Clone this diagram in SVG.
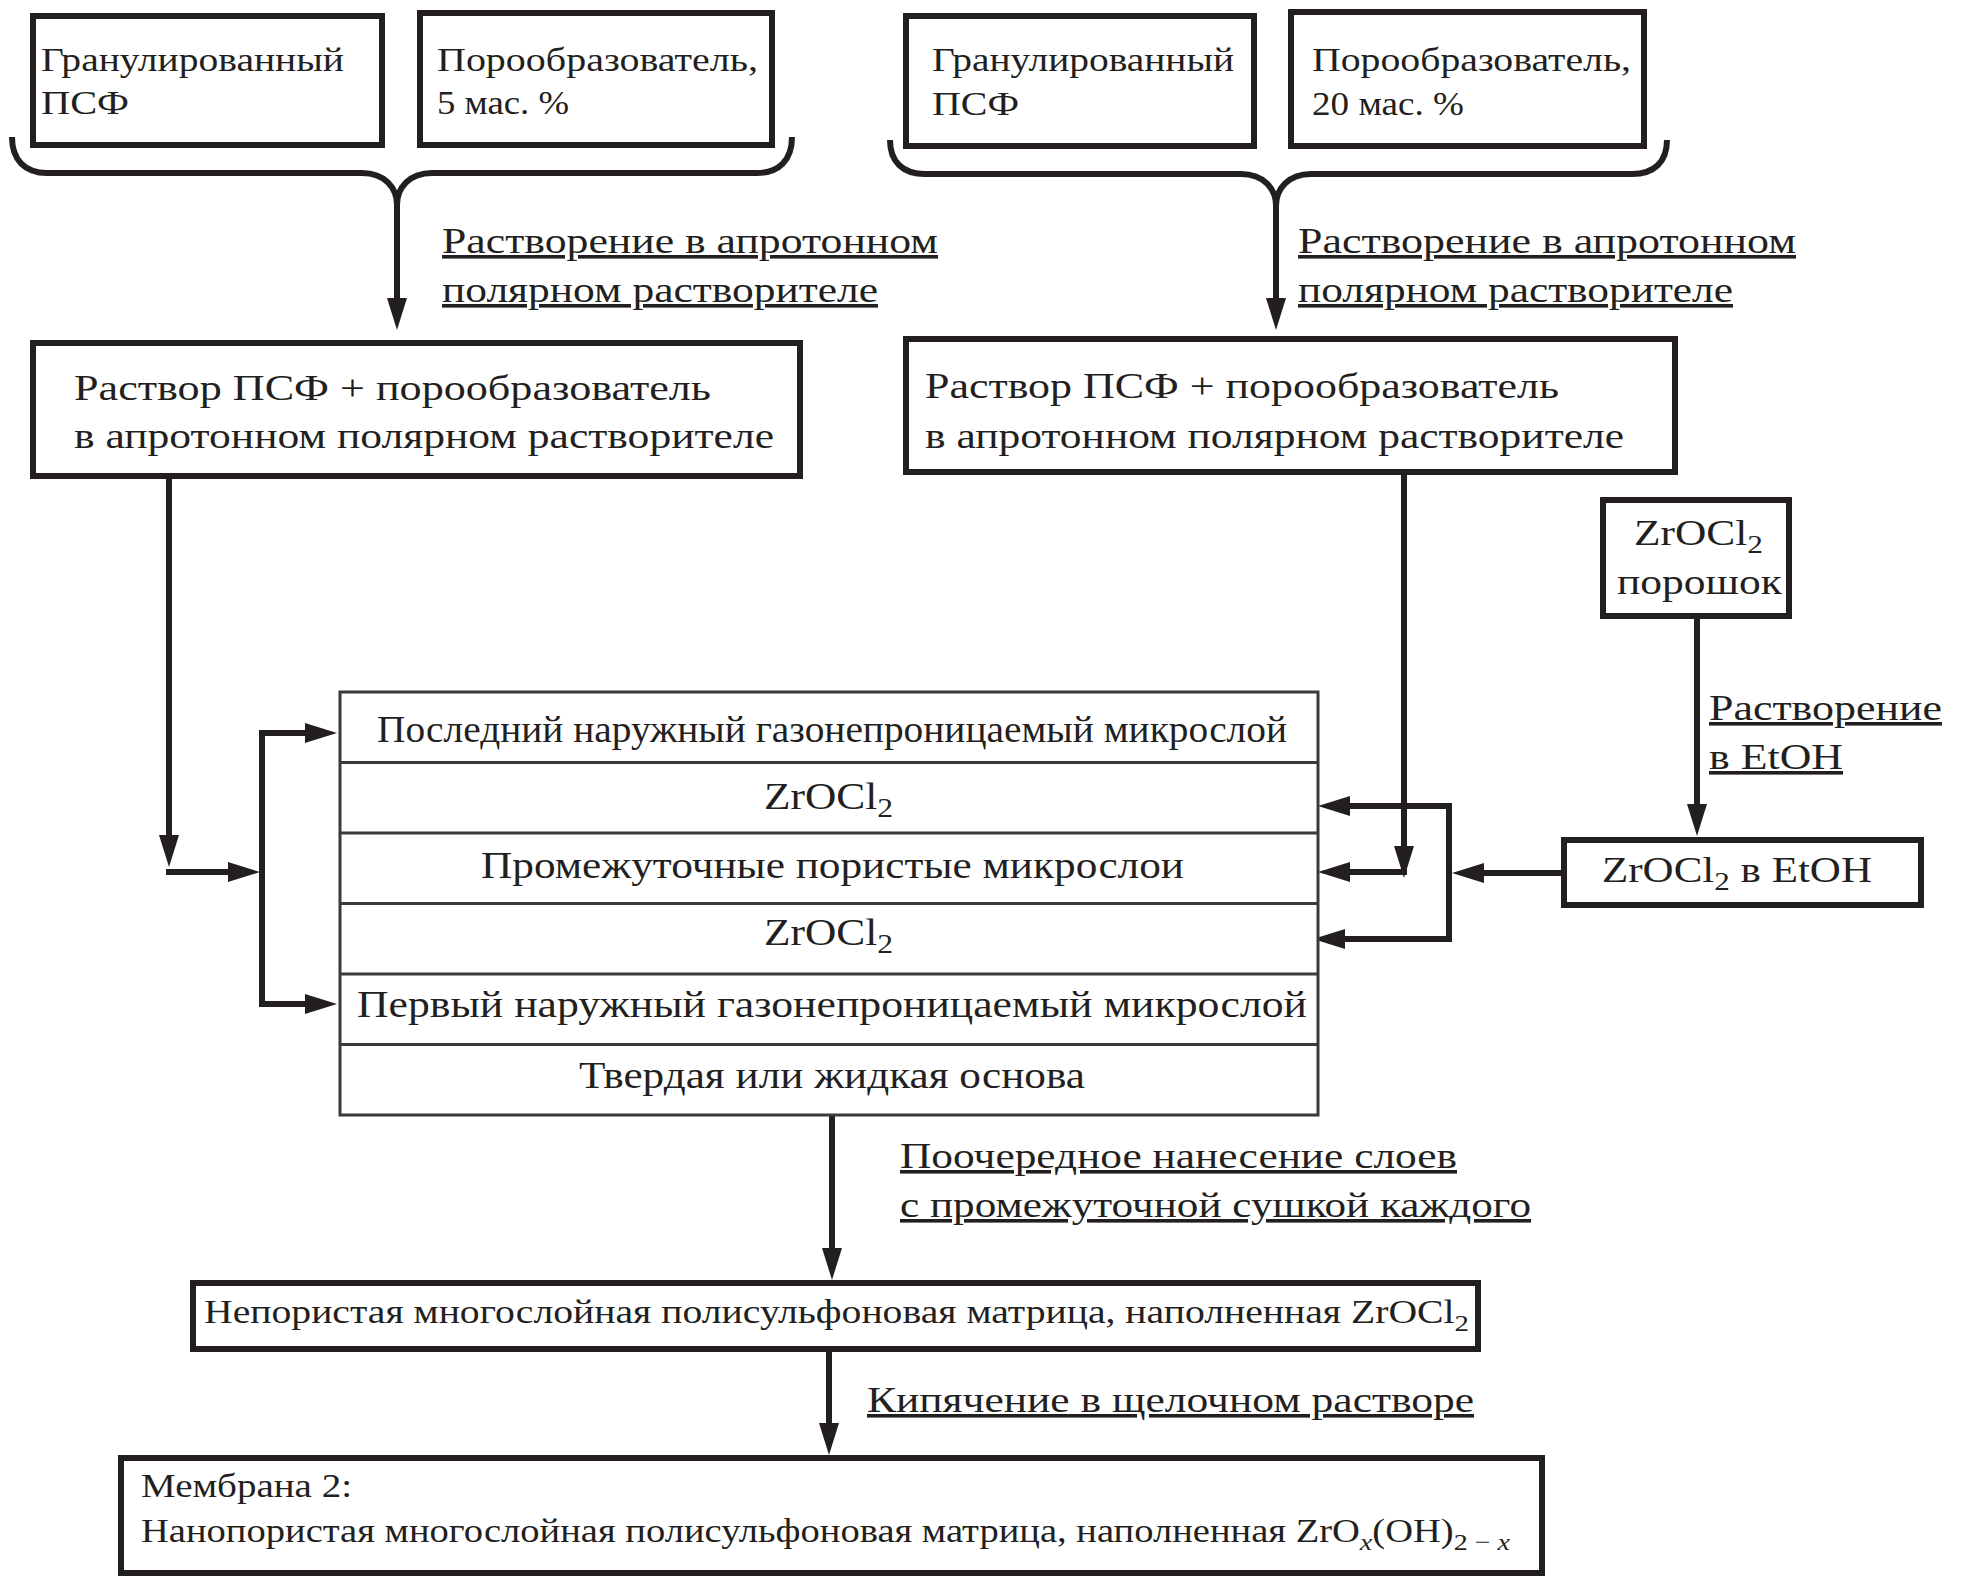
<svg xmlns="http://www.w3.org/2000/svg" width="1972" height="1584" viewBox="0 0 1972 1584">
<style>
  .box { fill: #ffffff; stroke: #231f20; stroke-width: 6; }
  .layer { fill: #ffffff; stroke: #3a3a3a; stroke-width: 3; }
  .ln { fill: none; stroke: #3a3a3a; stroke-width: 3; }
  .con { fill: none; stroke: #231f20; stroke-width: 6; }
  .arr { fill: none; stroke: #231f20; stroke-width: 6; marker-end: url(#ah); }
  text { font-family: "Liberation Serif", "Times New Roman", serif; fill: #231f20; }
  .t34 { font-size: 34px; }
  .t36 { font-size: 36px; }
  .t37 { font-size: 37px; }
  .t33 { font-size: 33px; }
  .u { text-decoration: underline; }
</style>
<defs>
  <marker id="ah" markerUnits="userSpaceOnUse" markerWidth="32" markerHeight="20" refX="12" refY="10" orient="auto">
    <path d="M0,0 L32,10 L0,20 z" fill="#231f20"/>
  </marker>
</defs>

<g id="connectors">
  <path class="con" d="M12,137 C12,160 25,173 47,173 L362,173 C385,173 397,188 397,205 C397,188 409,173 432,173 L757,173 C779,173 792,160 792,137"/>
  <path class="arr" d="M397,203 V310"/>
  <path class="con" d="M890,140 C890,162 903,174 925,174 L1241,174 C1264,174 1276,189 1276,206 C1276,189 1288,174 1311,174 L1632,174 C1654,174 1667,162 1667,140"/>
  <path class="arr" d="M1276,204 V310"/>
  <path class="arr" d="M169,478 V847"/>
  <path class="arr" d="M166,872 H240"/>
  <path class="con" d="M262,733 V1004"/>
  <path class="arr" d="M259,733 H317"/>
  <path class="arr" d="M259,1004 H317"/>
  <path class="arr" d="M1404,473 V858"/>
  <path class="arr" d="M1407,872 H1338"/>
  <path class="con" d="M1449,806 V939"/>
  <path class="arr" d="M1452,806 H1338"/>
  <path class="arr" d="M1452,939 H1333"/>
  <path class="arr" d="M1562,873 H1472"/>
  <path class="arr" d="M1697,619 V816"/>
  <path class="arr" d="M832,1116 V1260"/>
  <path class="arr" d="M829,1352 V1435"/>
</g>

<g id="labels">
  <text class="t36 u" x="442" y="253" textLength="496" lengthAdjust="spacingAndGlyphs">Растворение в апротонном</text>
  <text class="t36 u" x="442" y="302" textLength="436" lengthAdjust="spacingAndGlyphs">полярном растворителе</text>
  <text class="t36 u" x="1298" y="253" textLength="498" lengthAdjust="spacingAndGlyphs">Растворение в апротонном</text>
  <text class="t36 u" x="1298" y="302" textLength="435" lengthAdjust="spacingAndGlyphs">полярном растворителе</text>
  <text class="t36 u" x="1709" y="720" textLength="233" lengthAdjust="spacingAndGlyphs">Растворение</text>
  <text class="t36 u" x="1709" y="769" textLength="134" lengthAdjust="spacingAndGlyphs">в EtOH</text>
  <text class="t36 u" x="900" y="1168" textLength="557" lengthAdjust="spacingAndGlyphs">Поочередное нанесение слоев</text>
  <text class="t36 u" x="900" y="1217" textLength="631" lengthAdjust="spacingAndGlyphs">с промежуточной сушкой каждого</text>
  <text class="t36 u" x="867" y="1412" textLength="607" lengthAdjust="spacingAndGlyphs">Кипячение в щелочном растворе</text>
</g>

<g id="node-psf-1">
  <rect class="box" x="33" y="16" width="349" height="129"/>
  <text class="t34" x="41" y="71" textLength="303" lengthAdjust="spacingAndGlyphs">Гранулированный</text>
  <text class="t34" x="41" y="114" textLength="88" lengthAdjust="spacingAndGlyphs">ПСФ</text>
</g>
<g id="node-poro-5">
  <rect class="box" x="420" y="13" width="352" height="132"/>
  <text class="t34" x="437" y="71" textLength="321" lengthAdjust="spacingAndGlyphs">Порообразователь,</text>
  <text class="t34" x="437" y="114" textLength="132" lengthAdjust="spacingAndGlyphs">5 мас. %</text>
</g>
<g id="node-psf-2">
  <rect class="box" x="906" y="16" width="348" height="130"/>
  <text class="t34" x="932" y="71" textLength="302" lengthAdjust="spacingAndGlyphs">Гранулированный</text>
  <text class="t34" x="932" y="115" textLength="87" lengthAdjust="spacingAndGlyphs">ПСФ</text>
</g>
<g id="node-poro-20">
  <rect class="box" x="1291" y="12" width="353" height="134"/>
  <text class="t34" x="1312" y="71" textLength="319" lengthAdjust="spacingAndGlyphs">Порообразователь,</text>
  <text class="t34" x="1312" y="115" textLength="152" lengthAdjust="spacingAndGlyphs">20 мас. %</text>
</g>
<g id="node-solution-1">
  <rect class="box" x="33" y="343" width="767" height="133"/>
  <text class="t36" x="74" y="400" textLength="637" lengthAdjust="spacingAndGlyphs">Раствор ПСФ + порообразователь</text>
  <text class="t36" x="74" y="448" textLength="700" lengthAdjust="spacingAndGlyphs">в апротонном полярном растворителе</text>
</g>
<g id="node-solution-2">
  <rect class="box" x="906" y="339" width="769" height="133"/>
  <text class="t36" x="925" y="398" textLength="634" lengthAdjust="spacingAndGlyphs">Раствор ПСФ + порообразователь</text>
  <text class="t36" x="925" y="448" textLength="699" lengthAdjust="spacingAndGlyphs">в апротонном полярном растворителе</text>
</g>
<g id="node-zrocl2-powder">
  <rect class="box" x="1603" y="500" width="186" height="116"/>
  <text class="t36" x="1634" y="545" textLength="129" lengthAdjust="spacingAndGlyphs">ZrOCl<tspan dy="8" font-size="26">2</tspan></text>
  <text class="t36" x="1617" y="594" textLength="165" lengthAdjust="spacingAndGlyphs">порошок</text>
</g>
<g id="node-zrocl2-etoh">
  <rect class="box" x="1564" y="840" width="357" height="65"/>
  <text class="t36" x="1602" y="882" textLength="270" lengthAdjust="spacingAndGlyphs">ZrOCl<tspan dy="8" font-size="26">2</tspan><tspan dy="-8"> в EtOH</tspan></text>
</g>
<g id="node-layers">
  <rect class="layer" x="340" y="692" width="978" height="423"/>
  <path class="ln" d="M340,762.5 H1318 M340,833 H1318 M340,903.5 H1318 M340,974 H1318 M340,1044.5 H1318"/>
  <text class="t37" x="377" y="742" textLength="910" lengthAdjust="spacingAndGlyphs">Последний наружный газонепроницаемый микрослой</text>
  <text class="t37" x="764" y="809" textLength="129" lengthAdjust="spacingAndGlyphs">ZrOCl<tspan dy="8" font-size="27">2</tspan></text>
  <text class="t37" x="481" y="878" textLength="703" lengthAdjust="spacingAndGlyphs">Промежуточные пористые микрослои</text>
  <text class="t37" x="764" y="945" textLength="129" lengthAdjust="spacingAndGlyphs">ZrOCl<tspan dy="8" font-size="27">2</tspan></text>
  <text class="t37" x="357" y="1017" textLength="950" lengthAdjust="spacingAndGlyphs">Первый наружный газонепроницаемый микрослой</text>
  <text class="t37" x="579" y="1088" textLength="506" lengthAdjust="spacingAndGlyphs">Твердая или жидкая основа</text>
</g>
<g id="node-matrix">
  <rect class="box" x="193" y="1283" width="1285" height="66"/>
  <text class="t33" x="204" y="1323" textLength="1265" lengthAdjust="spacingAndGlyphs">Непористая многослойная полисульфоновая матрица, наполненная ZrOCl<tspan dy="8" font-size="24">2</tspan></text>
</g>
<g id="node-membrane">
  <rect class="box" x="121" y="1458" width="1421" height="115"/>
  <text class="t33" x="141" y="1497" textLength="211" lengthAdjust="spacingAndGlyphs">Мембрана 2:</text>
  <text class="t33" x="141" y="1542" textLength="1369" lengthAdjust="spacingAndGlyphs">Нанопористая многослойная полисульфоновая матрица, наполненная ZrO<tspan dy="8" font-size="24" font-style="italic">x</tspan><tspan dy="-8">(OH)</tspan><tspan dy="8" font-size="24">2 − </tspan><tspan font-size="24" font-style="italic">x</tspan></text>
</g>
</svg>
